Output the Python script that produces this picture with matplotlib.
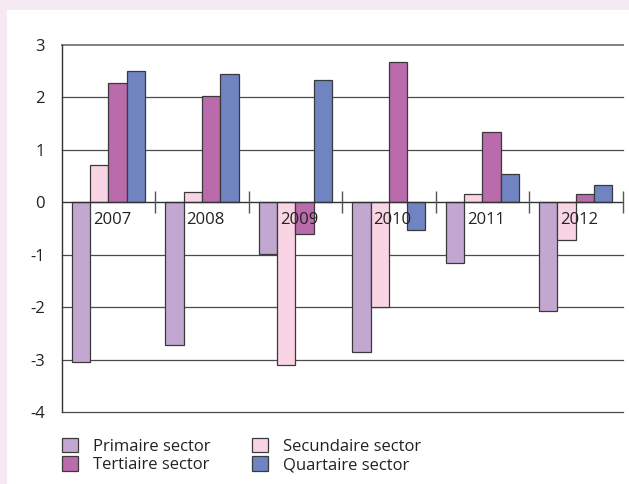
import numpy as np
import matplotlib.pyplot as plt
from matplotlib.patches import Rectangle

plt.rcParams['font.family'] = ['Open Sans', 'DejaVu Sans']
plt.rcParams['axes.unicode_minus'] = False

# data
years = ['2007', '2008', '2009', '2010', '2011', '2012']
series = ['Primaire sector', 'Secundaire sector', 'Tertiaire sector', 'Quartaire sector']
primaire = [-3.04, -2.72, -0.99, -2.86, -1.15, -2.08]
secundaire = [0.70, 0.20, -3.10, -1.99, 0.15, -0.72]
tertiaire = [2.28, 2.03, -0.60, 2.67, 1.33, 0.15]
quartaire = [2.49, 2.45, 2.32, -0.53, 0.53, 0.32]
colors = ['#C2A8D0', '#F9D4E4', '#B96BAB', '#7084C2']
yticks = [-4, -3, -2, -1, 0, 1, 2, 3]

W, H = 629, 484
fig = plt.figure(figsize=(W / 100, H / 100), dpi=100)
fig.patch.set_facecolor('#F5E9F2')
# white panel inside the pink frame
fig.patches.append(Rectangle((7 / W, 0), 1, (H - 10) / H, transform=fig.transFigure,
                             facecolor='white', edgecolor='none', zorder=-5))

ax = fig.add_axes([61.7 / W, (H - 412.3) / H, (622.5 - 61.7) / W, (412.3 - 44.7) / H])
ax.set_facecolor('none')
ax.set_zorder(2)

x = np.arange(len(years))
bw = 0.196
values = [primaire, secundaire, tertiaire, quartaire]
for k, (vals, c, name) in enumerate(zip(values, colors, series)):
    ax.bar(x + 0.5 + (k - 1.5) * bw, vals, bw, color=c, edgecolor='#3a3a3a',
           linewidth=0.9, label=name, zorder=3)

ax.set_xlim(0, len(years))
ax.set_ylim(yticks[0], yticks[-1])
ax.set_yticks(yticks)
ax.set_xticks([])
ax.tick_params(axis='y', length=0, pad=12, labelsize=12, labelcolor='#222222')

for y in yticks:
    if y == yticks[-1]:
        ax.axhline(y, color='#808080', lw=1.4, zorder=1, clip_on=False)
    elif y != 0:
        ax.axhline(y, color='#4a4a4a', lw=0.9, zorder=1, clip_on=False)

for s in ['top', 'right', 'bottom']:
    ax.spines[s].set_visible(False)
ax.spines['left'].set_color('#333333')
ax.spines['left'].set_linewidth(1.0)

# category axis at zero with boundary ticks
ax.axhline(0, color='#333333', lw=1.0, zorder=4)
ax.vlines(np.arange(1, len(years) + 1), -0.21, 0.21, color='#555555', lw=1.0, zorder=4,
          clip_on=False)
for i, yr in enumerate(years):
    ax.text(i + 0.54, -0.33, yr, ha='center', va='center', fontsize=12,
            color='#222222', zorder=5)

handles, labels = ax.get_legend_handles_labels()
order = [0, 2, 1, 3]
leg = fig.legend([handles[i] for i in order], [labels[i] for i in order], ncol=2,
                 frameon=False, fontsize=12, loc='upper left',
                 bbox_to_anchor=(50 / W, (H - 426) / H), handlelength=0.95, handleheight=0.95,
                 handletextpad=0.93, columnspacing=2.5, labelspacing=0.1,
                 labelcolor='#222222', borderpad=0.2)
leg.set_zorder(3)

fig.savefig('out.png', dpi=100, facecolor=fig.get_facecolor())
